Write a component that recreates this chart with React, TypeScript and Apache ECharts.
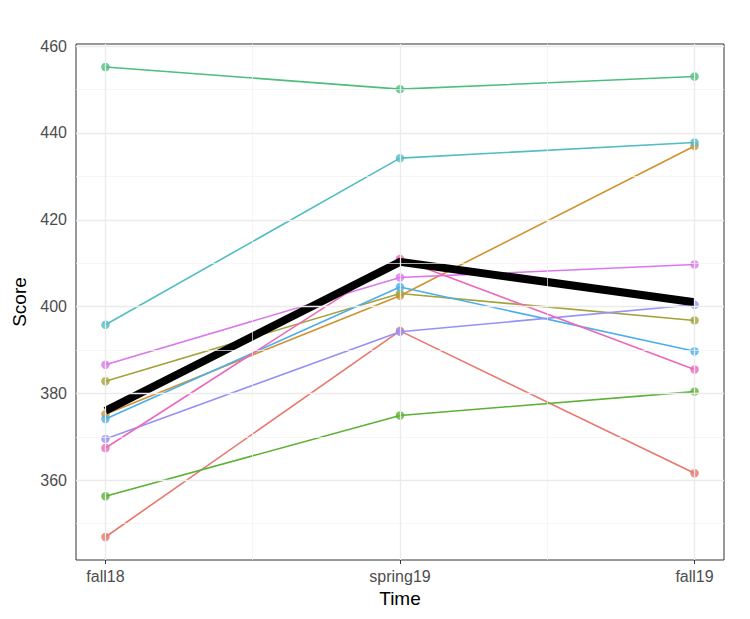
import React, { useEffect, useRef } from "react";
import * as echarts from "echarts";

const times = ["fall18", "spring19", "fall19"];
const timeIdx = [0, 1, 2];

const groupColors = [
  "#E9776C", "#D0922E", "#A5A23A", "#5CB033", "#4DBE7E",
  "#52BDC3", "#4AAEEE", "#9591F8", "#DC76EC", "#EE67B9",
];

const g1 = [346.9, 394.4, 361.6];
const g2 = [375.2, 402.5, 437.0];
const g3 = [382.8, 403.0, 396.8];
const g4 = [356.3, 374.9, 380.4];
const g5 = [455.2, 450.1, 453.0];
const g6 = [395.8, 434.2, 437.8];
const g7 = [374.1, 404.5, 389.7];
const g8 = [369.5, 394.2, 400.4];
const g9 = [386.6, 406.7, 409.7];
const g10 = [367.4, 411.0, 385.5];
const groups = [g1, g2, g3, g4, g5, g6, g7, g8, g9, g10];

const meanLine = [376.0, 410.3, 401.0];

const yTicks = [360, 380, 400, 420, 440, 460];
const yMinor = [350, 370, 390, 410, 430, 450];
const xMinor = [0.5, 1.5];

const FONT = "Liberation Sans, Arial, Helvetica, sans-serif";

export default function App() {
  const ref = useRef<HTMLDivElement>(null);

  useEffect(() => {
    if (!ref.current) return;
    const chart = echarts.init(ref.current, undefined, { renderer: "svg" });

    const toPts = (vals: number[]) => vals.map((v, i) => [timeIdx[i], v]);

    const major = { color: "#EBEBEB", width: 1.3, type: "solid" };
    const minor = { color: "#F2F2F2", width: 0.7, type: "solid" };

    const gridSeries: any = {
      type: "line",
      data: [[0, 400]],
      symbol: "none",
      lineStyle: { opacity: 0 },
      silent: true,
      z: 0,
      markLine: {
        silent: true,
        symbol: "none",
        label: { show: false },
        animation: false,
        data: [
          ...yMinor.map((v) => ({ yAxis: v, lineStyle: minor })),
          ...xMinor.map((v) => ({ xAxis: v, lineStyle: minor })),
          ...yTicks.map((v) => ({ yAxis: v, lineStyle: major })),
          ...timeIdx.map((v) => ({ xAxis: v, lineStyle: major })),
        ],
      },
    };

    const lineSeries = groups.map((g, k) => ({
      type: "line",
      data: toPts(g),
      symbol: "none",
      lineStyle: { color: groupColors[k], width: 1.6 },
      z: 2,
      silent: true,
    }));

    const pointSeries = groups.map((g, k) => ({
      type: "scatter",
      data: toPts(g),
      symbol: "circle",
      symbolSize: 8.5,
      itemStyle: { color: groupColors[k] },
      z: 3,
      silent: true,
    }));

    const meanSeries = {
      type: "line",
      data: toPts(meanLine),
      symbol: "none",
      lineStyle: { color: "#000000", width: 8, cap: "butt", join: "miter" },
      z: 4,
      silent: true,
    };

    chart.setOption({
      animation: false,
      backgroundColor: "#FFFFFF",
      grid: {
        left: 76,
        top: 44,
        width: 648,
        height: 516,
        show: true,
        borderColor: "#333333",
        borderWidth: 1,
        backgroundColor: "#FFFFFF",
      },
      xAxis: {
        type: "value",
        min: -0.1,
        max: 2.1,
        name: "Time",
        nameLocation: "middle",
        nameGap: 29,
        nameTextStyle: { color: "#000000", fontSize: 19, fontFamily: FONT },
        splitLine: { show: false },
        axisLine: { show: false },
        axisTick: {
          show: true,
          customValues: timeIdx,
          length: 4,
          lineStyle: { color: "#333333", width: 1 },
        },
        axisLabel: {
          show: true,
          customValues: timeIdx,
          formatter: (v: number) => times[Math.round(v)] ?? "",
          color: "#4D4D4D",
          fontSize: 16,
          fontFamily: FONT,
          margin: 8,
        },
      },
      yAxis: {
        type: "value",
        min: 341.6,
        max: 460.5,
        name: "Score",
        nameLocation: "middle",
        nameGap: 41,
        nameTextStyle: { color: "#000000", fontSize: 19, fontFamily: FONT },
        splitLine: { show: false },
        axisLine: { show: false },
        axisTick: {
          show: true,
          customValues: yTicks,
          length: 4,
          lineStyle: { color: "#333333", width: 1 },
        },
        axisLabel: {
          show: true,
          customValues: yTicks,
          color: "#4D4D4D",
          fontSize: 16,
          fontFamily: FONT,
          margin: 9,
        },
      },
      series: [gridSeries, ...lineSeries, ...pointSeries, meanSeries],
    });

    return () => {
      chart.dispose();
    };
  }, []);

  return (
    <div
      ref={ref}
      style={{ position: "fixed", left: 0, top: 0, width: 750, height: 619 }}
    />
  );
}
